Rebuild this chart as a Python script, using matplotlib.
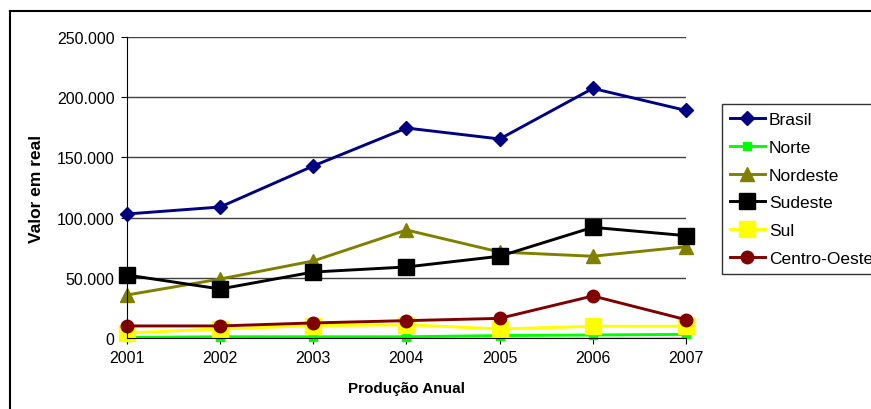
import matplotlib.pyplot as plt
from matplotlib.lines import Line2D
from matplotlib.ticker import FuncFormatter

plt.rcParams['font.family'] = ['Liberation Sans', 'DejaVu Sans']

years = [2001, 2002, 2003, 2004, 2005, 2006, 2007]
brasil = [103000, 108800, 142900, 174400, 165300, 207300, 189000]
norte = [500, 1000, 1000, 1000, 2000, 2500, 3000]
nordeste = [35700, 49000, 64000, 89700, 71400, 67900, 75800]
sudeste = [52300, 40700, 54800, 59000, 67900, 91900, 85000]
sul = [4200, 7500, 10200, 11000, 7500, 9700, 9700]
centro_oeste = [10000, 10000, 12500, 14400, 16300, 34900, 15200]

fig = plt.figure(figsize=(8.71, 4.10), dpi=100)
ax = fig.add_axes([0.1458, 0.1732, 0.6418, 0.7341])

# series: label, data, colour, marker, size
series = [
    ('Brasil', brasil, '#000080', 'D', 7.5),
    ('Norte', norte, '#00FF00', 's', 6),
    ('Nordeste', nordeste, '#808000', '^', 10),
    ('Sudeste', sudeste, '#000000', 's', 11.5),
    ('Sul', sul, '#FFFF00', 's', 11.5),
    ('Centro-Oeste', centro_oeste, '#800000', 'o', 9),
]
for name, vals, col, mk, ms in series:
    ax.plot(years, vals, color=col, marker=mk, markersize=ms, linewidth=2.1,
            label=name, clip_on=False)

ax.set_xlim(2001, 2007)
ax.set_ylim(0, 250000)
ax.set_yticks(range(0, 250001, 50000))
ax.set_xticks(years)
ax.yaxis.set_major_formatter(FuncFormatter(lambda v, p: f'{int(v):,}'.replace(',', '.')))
ax.grid(axis='y', color='#404040', linewidth=1)
ax.set_axisbelow(True)
for s in ['top', 'right']:
    ax.spines[s].set_visible(False)
ax.spines['left'].set_color('#000000')
ax.spines['bottom'].set_color('#000000')
ax.tick_params(axis='both', labelsize=11.5, length=4, color='#000000', pad=5)

ax.set_xlabel('Produção Anual', fontsize=11, fontweight='bold', labelpad=11)
ax.set_ylabel('Valor em real', fontsize=12.5, fontweight='bold', labelpad=9)

leg = ax.legend(loc='upper left', bbox_to_anchor=(722 / 871, 1 - 105 / 410),
                bbox_transform=fig.transFigure, frameon=True, fancybox=False,
                edgecolor='#000000', fontsize=12.5, handlelength=2.0,
                labelspacing=0.73, borderpad=0.45, handletextpad=0.25,
                borderaxespad=0)
leg.get_frame().set_linewidth(1)

# outer chart frame
fig.add_artist(Line2D([10 / 871, 10 / 871], [0, 1 - 12 / 410], color='#000000', lw=1.5))
fig.add_artist(Line2D([10 / 871, 1], [1 - 12 / 410, 1 - 12 / 410], color='#000000', lw=1.5))

fig.savefig('out.png', dpi=100)
